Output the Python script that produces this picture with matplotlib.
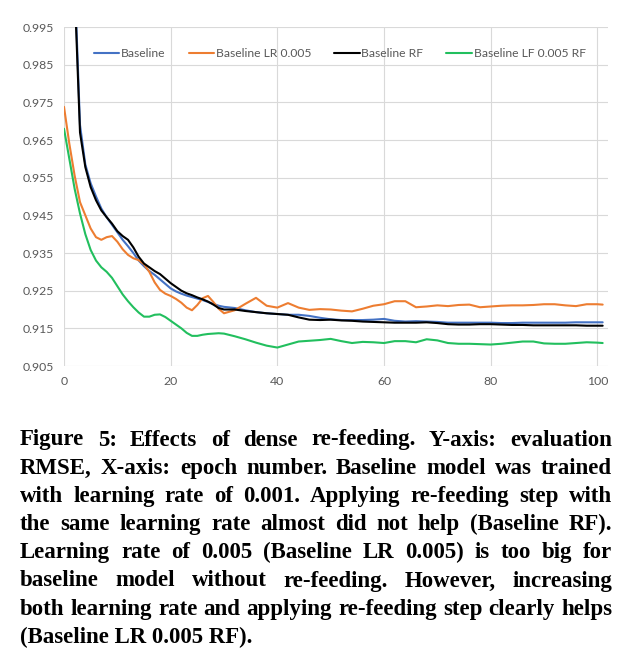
import numpy as np
import matplotlib
matplotlib.use("Agg")
import matplotlib.pyplot as plt

# epochs: every epoch up to 30, then every 2nd, plus the last one
epochs = list(range(0, 31)) + list(range(32, 101, 2)) + [101]

baseline = [1.12, 1.06, 1.008, 0.969, 0.9585, 0.9535, 0.950, 0.9468, 0.9445, 0.9425,
            0.9405, 0.9385, 0.9368, 0.9350, 0.9330, 0.9315, 0.9302, 0.9292, 0.9280, 0.9268,
            0.9256, 0.9248, 0.9242, 0.9237, 0.9233, 0.9229, 0.9225, 0.9220, 0.9215, 0.9210,
            0.9207,
            0.9204, 0.9198, 0.9193, 0.9190, 0.9188, 0.9186, 0.9186, 0.9183, 0.9178, 0.9174,
            0.9172, 0.9172, 0.9172, 0.9173, 0.9175, 0.9170, 0.9168, 0.9169, 0.9168, 0.9167,
            0.9165, 0.9165, 0.9165, 0.9165, 0.9165, 0.9164, 0.9164, 0.9165, 0.9165, 0.9165,
            0.9165, 0.9165, 0.9166, 0.9166, 0.9166,
            0.9166]

baseline_lr = [0.9738, 0.964, 0.9555, 0.9485, 0.9450, 0.9415, 0.9392, 0.9385, 0.9392, 0.9395,
               0.9380, 0.9360, 0.9345, 0.9336, 0.9331, 0.9320, 0.9300, 0.9272, 0.9252, 0.9242,
               0.9236, 0.9228, 0.9218, 0.9205, 0.9198, 0.9212, 0.9230, 0.9236, 0.9220, 0.9202,
               0.9190,
               0.9198, 0.9215, 0.9231, 0.9210, 0.9205, 0.9217, 0.9205, 0.9199, 0.9201, 0.9200,
               0.9197, 0.9195, 0.9202, 0.9210, 0.9214, 0.9222, 0.9222, 0.9206, 0.9208, 0.9211,
               0.9209, 0.9212, 0.9213, 0.9206, 0.9208, 0.9210, 0.9211, 0.9211, 0.9212, 0.9214,
               0.9214, 0.9211, 0.9209, 0.9214, 0.9214,
               0.9213]

baseline_rf = [1.12, 1.06, 1.005, 0.967, 0.9578, 0.9525, 0.9490, 0.9463, 0.9445, 0.9428,
               0.9408, 0.9395, 0.9385, 0.9365, 0.9340, 0.9322, 0.9312, 0.9302, 0.9294, 0.9282,
               0.9270, 0.9260, 0.9250, 0.9243, 0.9238, 0.9232, 0.9227, 0.9221, 0.9213, 0.9204,
               0.9200,
               0.9200, 0.9196, 0.9193, 0.9190, 0.9188, 0.9186, 0.9179, 0.9173, 0.9172, 0.9173,
               0.9171, 0.9170, 0.9168, 0.9167, 0.9166, 0.9165, 0.9165, 0.9165, 0.9166, 0.9164,
               0.9161, 0.9160, 0.9160, 0.9161, 0.9161, 0.9160, 0.9159, 0.9159, 0.9158, 0.9158,
               0.9158, 0.9158, 0.9158, 0.9157, 0.9157,
               0.9157]

baseline_lf_rf = [0.968, 0.960, 0.952, 0.9455, 0.9400, 0.9358, 0.9330, 0.9312, 0.9300, 0.9284,
                  0.9262, 0.9240, 0.9222, 0.9206, 0.9192, 0.9181, 0.9181, 0.9186, 0.9187, 0.9180,
                  0.9170, 0.9160, 0.9150, 0.9138, 0.9130, 0.9130, 0.9133, 0.9135, 0.9136, 0.9137,
                  0.9136,
                  0.9129, 0.9121, 0.9112, 0.9104, 0.9099, 0.9107, 0.9115, 0.9117, 0.9119, 0.9122,
                  0.9116, 0.9111, 0.9114, 0.9113, 0.9111, 0.9116, 0.9116, 0.9113, 0.9121, 0.9118,
                  0.9111, 0.9109, 0.9109, 0.9108, 0.9107, 0.9109, 0.9112, 0.9115, 0.9115, 0.9110,
                  0.9109, 0.9109, 0.9111, 0.9113, 0.9112,
                  0.9111]

series = [("Baseline", baseline, "#4472C4"),
          ("Baseline LR 0.005", baseline_lr, "#ED7D31"),
          ("Baseline RF", baseline_rf, "#000000"),
          ("Baseline LF 0.005 RF", baseline_lf_rf, "#22BF5E")]

caption_lines = [
    "Figure 5: Effects of dense re-feeding.  Y-axis: evaluation",
    "RMSE, X-axis: epoch number. Baseline model was trained",
    "with learning rate of 0.001. Applying re-feeding step with",
    "the same learning rate almost did not help (Baseline RF).",
    "Learning rate of 0.005 (Baseline LR 0.005) is too big for",
    "baseline model without re-feeding.  However, increasing",
    "both learning rate and applying re-feeding step clearly helps",
    "(Baseline LR 0.005 RF).",
]

W, H = 640, 657
fig = plt.figure(figsize=(W / 100, H / 100), dpi=100)
ax = fig.add_axes([64 / W, 1 - 366 / H, 544 / W, 339 / H])

for name, vals, col in series:
    ax.plot(epochs, vals, color=col, lw=1.5, label=name, solid_capstyle='round')

ax.set_xlim(0, 102)
ax.set_ylim(0.905, 0.995)
ax.set_yticks(np.arange(0.905, 0.9951, 0.01))
ax.set_yticklabels(["%.3f" % v for v in np.arange(0.905, 0.9951, 0.01)])
ax.set_xticks(range(0, 101, 20))
ax.grid(True, color="#d9d9d9", lw=0.8)
ax.set_axisbelow(True)
for s in ax.spines.values():
    s.set_visible(False)
ax.tick_params(length=0, labelsize=8.8, labelcolor="#595959", pad=7)
for lab in ax.get_xticklabels() + ax.get_yticklabels():
    lab.set_family("Lato")

leg = ax.legend(ncol=4, loc="center", bbox_to_anchor=(0.507, 0.922), frameon=False,
                handlelength=2.1, handletextpad=0.15, columnspacing=1.9,
                prop={"family": "Lato", "size": 8.7})
for t in leg.get_texts():
    t.set_color("#595959")

# caption, justified by hand
renderer = fig.canvas.get_renderer()
x_left, x_right = 20, 612
y0, dy = 440, 28.2
font = dict(family="Liberation Serif", weight="bold", size=16.5, color="black")
for i, line in enumerate(caption_lines):
    y = 1 - (y0 + i * dy) / H
    words = line.split()
    if i == len(caption_lines) - 1:
        fig.text(x_left / W, y, line, va="center", ha="left", **font)
        continue
    arts = [fig.text(0, y, w, va="center", ha="left", **font) for w in words]
    widths = [a.get_window_extent(renderer).width for a in arts]
    gap = (x_right - x_left - sum(widths)) / (len(words) - 1)
    x = x_left
    for a, wd in zip(arts, widths):
        a.set_x(x / W)
        x += wd + gap

fig.savefig("out.png", dpi=100)
